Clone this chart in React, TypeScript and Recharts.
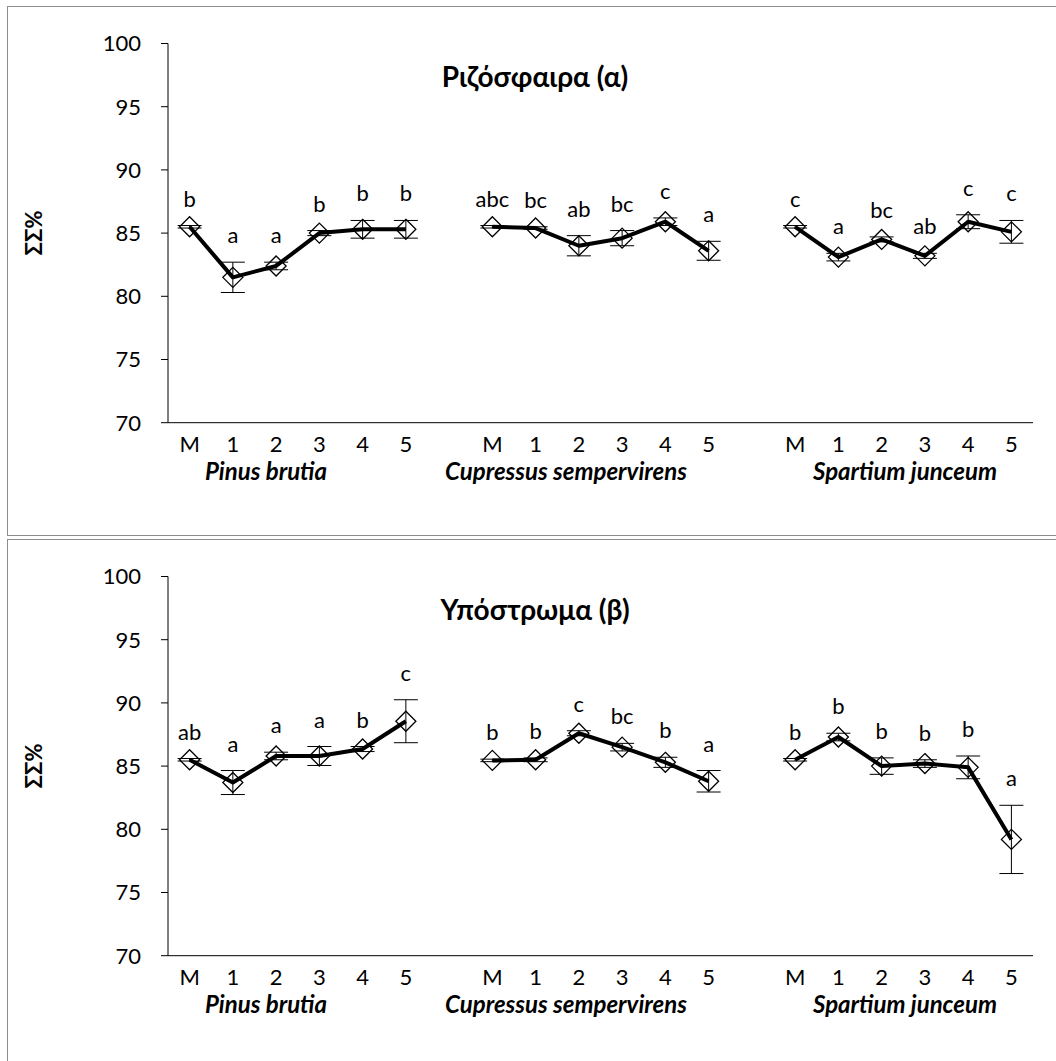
import React from 'react';
import { LineChart, Line, XAxis, YAxis, ErrorBar, LabelList } from 'recharts';

// 20 slots along the x axis: three groups of six with one empty slot between groups
const categories = ['M', '1', '2', '3', '4', '5', '', 'M', '1', '2', '3', '4', '5', '', 'M', '1', '2', '3', '4', '5'];
const groupNames = ['Pinus brutia', 'Cupressus sempervirens', 'Spartium junceum'];
const yTicks = [70, 75, 80, 85, 90, 95, 100];

// Ριζόσφαιρα (α)
const pinusRhizo = [85.5, 81.5, 82.4, 85.0, 85.3, 85.3];
const cupressusRhizo = [85.5, 85.4, 84.0, 84.6, 85.9, 83.6];
const spartiumRhizo = [85.5, 83.1, 84.5, 83.2, 85.9, 85.1];
const pinusRhizoErr = [0.1, 1.2, 0.3, 0.2, 0.7, 0.7];
const cupressusRhizoErr = [0.1, 0.1, 0.8, 0.6, 0.3, 0.75];
const spartiumRhizoErr = [0.1, 0.3, 0.2, 0.2, 0.55, 0.9];
const pinusRhizoLetters = ['b', 'a', 'a', 'b', 'b', 'b'];
const cupressusRhizoLetters = ['abc', 'bc', 'ab', 'bc', 'c', 'a'];
const spartiumRhizoLetters = ['c', 'a', 'bc', 'ab', 'c', 'c'];

// Υπόστρωμα (β)
const pinusSub = [85.5, 83.7, 85.8, 85.8, 86.35, 88.55];
const cupressusSub = [85.45, 85.5, 87.6, 86.5, 85.3, 83.8];
const spartiumSub = [85.5, 87.3, 85.0, 85.2, 84.9, 79.2];
const pinusSubErr = [0.1, 0.95, 0.3, 0.75, 0.2, 1.7];
const cupressusSubErr = [0.1, 0.15, 0.2, 0.3, 0.4, 0.85];
const spartiumSubErr = [0.1, 0.3, 0.65, 0.3, 0.9, 2.7];
const pinusSubLetters = ['ab', 'a', 'a', 'a', 'b', 'c'];
const cupressusSubLetters = ['b', 'b', 'c', 'bc', 'b', 'a'];
const spartiumSubLetters = ['b', 'b', 'b', 'b', 'b', 'a'];

const FONT = 'Lato, "Open Sans", sans-serif';

function buildRows(means: number[][], errs: number[][], letters: string[][]) {
  const rows: any[] = [];
  let g = 0;
  let k = 0;
  categories.forEach((cat, i) => {
    if (cat === '') {
      rows.push({ id: i, cat, v: null, e: null, top: null, lab: null });
      g += 1;
      k = 0;
      return;
    }
    const v = means[g][k];
    const e = errs[g][k];
    rows.push({ id: i, cat, v, e, top: v + e, lab: letters[g][k] });
    k += 1;
  });
  return rows;
}

const rhizoRows = buildRows(
  [pinusRhizo, cupressusRhizo, spartiumRhizo],
  [pinusRhizoErr, cupressusRhizoErr, spartiumRhizoErr],
  [pinusRhizoLetters, cupressusRhizoLetters, spartiumRhizoLetters]
);
const subRows = buildRows(
  [pinusSub, cupressusSub, spartiumSub],
  [pinusSubErr, cupressusSubErr, spartiumSubErr],
  [pinusSubLetters, cupressusSubLetters, spartiumSubLetters]
);

const Diamond = (props: any) => {
  const { cx, cy, index, value } = props;
  if (cx == null || cy == null || value == null) return <g key={index} />;
  const r = 10;
  return (
    <path
      key={index}
      d={`M${cx},${cy - r}L${cx + r},${cy}L${cx},${cy + r}L${cx - r},${cy}Z`}
      fill="none"
      stroke="#000"
      strokeWidth={1.3}
    />
  );
};

const Letter = (props: any) => {
  const { x, y, value } = props;
  if (value == null || x == null || y == null) return null;
  return (
    <text x={x} y={y - 19} textAnchor="middle" fontSize={22} fill="#000" fontFamily={FONT}>
      {value}
    </text>
  );
};

const CatTick = (props: any) => {
  const { x, y, payload } = props;
  const label = categories[payload.value];
  return (
    <text x={x} y={y} dy={17} textAnchor="middle" fontSize={22} fill="#000" fontFamily={FONT}>
      {label}
    </text>
  );
};

function Panel({ rows, title, top }: { rows: any[]; title: string; top: number }) {
  const tickStyle = { fontSize: 22, fill: '#000', fontFamily: FONT };
  return (
    <>
      <div
        style={{
          position: 'absolute',
          left: 7,
          top: top + 6,
          width: 1050,
          height: 528,
          border: '1.5px solid #8c8c8c',
        }}
      />
      <div style={{ position: 'absolute', left: 0, top }}>
        <LineChart width={1056} height={536} data={rows} margin={{ top: 43.5, right: 23, bottom: 83.3, left: 108 }}>
          <XAxis
            dataKey="id"
            type="category"
            interval={0}
            padding={{ left: 21.6, right: 21.6 }}
            tickLine={false}
            tickSize={0}
            tickMargin={12}
            height={30}
            axisLine={{ stroke: '#000', strokeWidth: 1 }}
            tick={<CatTick />}
          />
          <YAxis
            domain={[70, 100]}
            ticks={yTicks}
            width={60}
            tickSize={7}
            tickMargin={20}
            axisLine={{ stroke: '#000', strokeWidth: 1 }}
            tickLine={{ stroke: '#000', strokeWidth: 1 }}
            tick={tickStyle}
          />
          <Line
            dataKey="v"
            stroke="#000"
            strokeWidth={4}
            strokeLinejoin="round"
            dot={Diamond}
            activeDot={false}
            isAnimationActive={false}
          >
            <ErrorBar dataKey="e" direction="y" width={12} stroke="#000" strokeWidth={1} />
          </Line>
          <Line dataKey="top" stroke="none" dot={false} activeDot={false} isAnimationActive={false}>
            <LabelList dataKey="lab" content={Letter} />
          </Line>
        </LineChart>
      </div>
      <div
        style={{
          position: 'absolute',
          left: 535,
          top: top + 76,
          transform: 'translate(-50%, -50%)',
          fontSize: 28,
          fontWeight: 700,
          whiteSpace: 'nowrap',
        }}
      >
        {title}
      </div>
      <div
        style={{
          position: 'absolute',
          left: 33,
          top: top + 233,
          transform: 'translate(-50%, -50%) rotate(-90deg)',
          fontSize: 22,
          fontWeight: 700,
          whiteSpace: 'nowrap',
        }}
      >
        ΣΣ%
      </div>
      {groupNames.map((name, i) => (
        <div
          key={name}
          style={{
            position: 'absolute',
            left: [266, 566, 905][i],
            top: top + 470,
            transform: 'translate(-50%, -50%)',
            fontSize: 24,
            fontWeight: 700,
            fontStyle: 'italic',
            whiteSpace: 'nowrap',
          }}
        >
          {name}
        </div>
      ))}
    </>
  );
}

export default function App() {
  return (
    <div
      style={{
        position: 'relative',
        width: 1056,
        height: 1061,
        overflow: 'hidden',
        background: '#fff',
        fontFamily: FONT,
        color: '#000',
      }}
    >
      <style>{`body{margin:0}`}</style>
      <Panel rows={rhizoRows} title="Ριζόσφαιρα (α)" top={0} />
      <Panel rows={subRows} title="Υπόστρωμα (β)" top={532.5} />
    </div>
  );
}
